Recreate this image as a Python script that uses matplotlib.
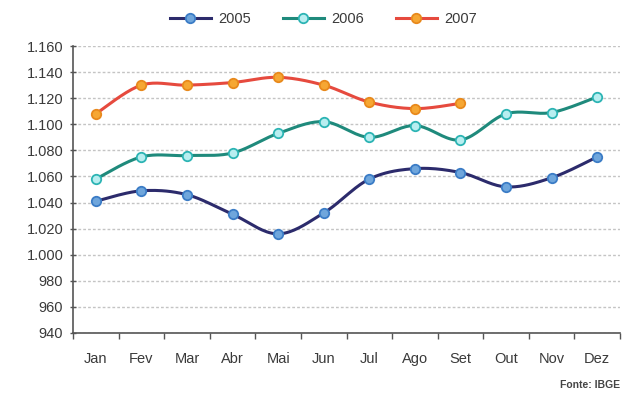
import matplotlib
matplotlib.use("Agg")
import matplotlib.pyplot as plt
import numpy as np

plt.rcParams['font.family'] = ['Liberation Sans', 'DejaVu Sans']

months = ['Jan', 'Fev', 'Mar', 'Abr', 'Mai', 'Jun', 'Jul', 'Ago', 'Set', 'Out', 'Nov', 'Dez']
v2005 = [1041, 1049, 1046, 1031, 1016, 1032, 1058, 1066, 1063, 1052, 1059, 1075]
v2006 = [1058, 1075, 1076, 1078, 1093, 1102, 1090, 1099, 1088, 1108, 1109, 1121]
v2007 = [1108, 1130, 1130, 1132, 1136, 1130, 1117, 1112, 1116]
yticks = list(range(940, 1161, 20))


def smooth(x, y, n=20):
    """Catmull-Rom curve through the points (like a spreadsheet's smoothed line)."""
    x = np.asarray(x, float)
    y = np.asarray(y, float)
    px = np.concatenate([[x[0]], x, [x[-1]]])
    py = np.concatenate([[y[0]], y, [y[-1]]])
    xs, ys = [], []
    t = np.linspace(0, 1, n, endpoint=False)
    for i in range(1, len(px) - 2):
        p0, p1, p2, p3 = (np.array([px[j], py[j]]) for j in range(i - 1, i + 3))
        c1 = p1 + (p2 - p0) / 6
        c2 = p2 - (p3 - p1) / 6
        b = ((1 - t) ** 3)[:, None] * p1 + (3 * (1 - t) ** 2 * t)[:, None] * c1 \
            + (3 * (1 - t) * t ** 2)[:, None] * c2 + (t ** 3)[:, None] * p2
        xs.append(b[:, 0])
        ys.append(b[:, 1])
    xs.append([x[-1]])
    ys.append([y[-1]])
    return np.concatenate(xs), np.concatenate(ys)


series = [
    ('2005', v2005, '#2c2b6c', '#6fa6dc', '#3b7cc6'),
    ('2006', v2006, '#1f8a7c', '#b8eef0', '#2cb4b4'),
    ('2007', v2007, '#e64a3e', '#f6a733', '#e8891c'),
]

fig = plt.figure(figsize=(6.22, 3.99), dpi=100)
ax = fig.add_axes([73 / 622, 66 / 399, 547 / 622, 287 / 399])

handles = []
for label, vals, lc, fc, ec in series:
    xi = np.arange(len(vals))
    sx, sy = smooth(xi, vals)
    ax.plot(sx, sy, color=lc, lw=2.2, solid_capstyle='round', zorder=3)
    ax.plot(xi, vals, ls='none', marker='o', ms=6.8, mfc=fc, mec=ec, mew=1.3, zorder=4)
    h, = ax.plot([], [], color=lc, lw=2.2, marker='o', ms=6.8, mfc=fc, mec=ec, mew=1.3)
    handles.append((h, label))

ax.set_xlim(-0.5, 11.5)
ax.set_ylim(940, 1160)
ax.set_yticks(yticks)
ax.set_yticklabels([f'{v:,}'.replace(',', '.') for v in yticks])
ax.set_xticks(range(12))
ax.set_xticklabels(months)
ax.set_xticks(np.arange(-0.5, 12, 1), minor=True)
ax.tick_params(axis='x', which='major', length=0, pad=14, labelsize=10.5, colors='#3a3a3a')
ax.tick_params(axis='x', which='minor', length=4, width=1, color='#555555', direction='out')
ax.tick_params(axis='y', length=4, width=1, color='#555555', labelsize=10.5, colors='#3a3a3a',
               pad=5, direction='inout')

ax.grid(axis='y', ls=(0, (2, 1.5)), color='#c4c4c4', lw=1, zorder=0)
for s in ['top', 'right']:
    ax.spines[s].set_visible(False)
for s in ['left', 'bottom']:
    ax.spines[s].set_color('#555555')
    ax.spines[s].set_linewidth(1.2)

fig.legend([h for h, _ in handles], [l for _, l in handles], loc='center',
           bbox_to_anchor=(0.52, 0.952), ncol=3, frameon=False, fontsize=10.5,
           handlelength=2.8, columnspacing=2.2, handletextpad=0.5, labelcolor='#3a3a3a')

fig.text(0.997, 0.022, 'Fonte: IBGE', ha='right', va='bottom', fontsize=7.5,
         fontweight='bold', color='#444444')

fig.savefig('out.png', dpi=100)
